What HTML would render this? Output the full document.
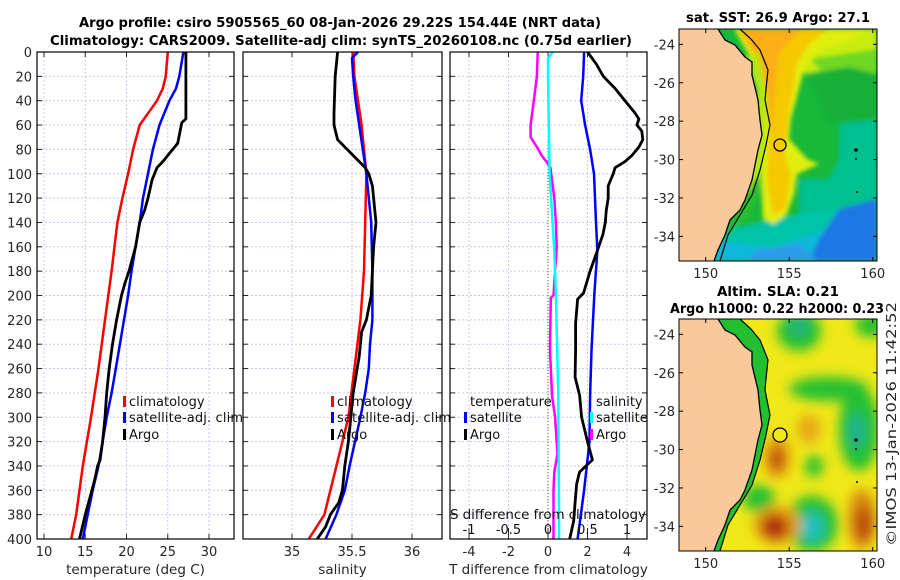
<!DOCTYPE html>
<html><head><meta charset="utf-8"><style>
html,body{margin:0;padding:0;background:#fff;}
svg{display:block;font-family:"DejaVu Sans","Liberation Sans",sans-serif;}
</style></head><body>
<svg id="fig" width="900" height="580" viewBox="0 0 900 580" xmlns="http://www.w3.org/2000/svg">
<defs>
<filter id="blur1" x="-20%" y="-20%" width="140%" height="140%"><feGaussianBlur stdDeviation="2"/></filter>
<filter id="blur2" x="-30%" y="-30%" width="160%" height="160%"><feGaussianBlur stdDeviation="6"/></filter>
<clipPath id="clipMap"><rect x="0" y="0" width="198" height="232"/></clipPath>
</defs>
<text x="340" y="27" text-anchor="middle" font-size="13" font-weight="bold" fill="#000" textLength="522" lengthAdjust="spacingAndGlyphs">Argo profile: csiro 5905565_60 08-Jan-2026 29.22S 154.44E (NRT data)</text>
<text x="341" y="45" text-anchor="middle" font-size="13" font-weight="bold" fill="#000" textLength="582" lengthAdjust="spacingAndGlyphs">Climatology: CARS2009. Satellite-adj clim: synTS_20260108.nc (0.75d earlier)</text>
<g id="panels"></g>

<!-- SST map -->
<g transform="translate(679,29)">
 <g clip-path="url(#clipMap)">
  <rect width="198" height="232" fill="#18b83a"/>
  <g filter="url(#blur1)">
   <polygon fill="#c8ec10" points="95,0 198,0 198,60 180,52 160,40 140,42 125,45"/>
   <polygon fill="#70d820" points="130,30 198,20 198,55 175,50 150,48"/>
   <polygon fill="#12b038" points="128,45 170,38 198,45 198,90 150,95"/>
   <polygon fill="#00c090" points="160,95 198,90 198,232 120,232 120,150 150,150 160,130"/>
   <polygon fill="#00c4a8" points="50,200 120,185 198,175 198,232 30,232"/>
   <polygon fill="#10b8d8" points="40,212 95,218 150,200 198,170 198,232 30,232"/>
   <polygon fill="#1c78e4" points="160,180 198,170 198,232 130,232 140,210"/>
   <polygon fill="#2a9ce8" points="75,222 120,215 140,232 70,232"/>
   <polygon fill="#e0ee10" points="55,0 190,0 170,12 140,22 125,40 120,60 112,90 110,110 128,130 140,135 118,145 115,165 108,185 95,195 84,190 82,150 84,110 82,70 72,30"/>
   <polygon fill="#f6c800" points="58,0 150,0 130,15 118,35 114,60 108,95 106,125 112,148 106,180 94,186 88,150 90,100 86,60 76,28"/>
   <polygon fill="#fbae14" points="60,0 125,0 110,12 100,25 96,60 93,100 88,60 78,26"/>
   <polygon fill="#b0e818" points="66,28 80,25 88,70 86,120 80,150 70,170 62,150 76,110 78,60"/>
   <polygon fill="#28c030" points="76,150 82,155 72,185 55,200 48,205 60,180"/>
  </g>
  <polygon fill="#f9c99a" points="0,0 39,0 46,11 56,16 66,28 73,33 73,46 79,71 81,91 83,106 79,121 76,136 73,151 66,171 61,181 51,191 46,206 39,221 35,232 0,232"/>
  <polyline fill="none" stroke="#000" stroke-width="1.3" points="39,0 46,11 56,16 66,28 73,33 73,46 79,71 81,91 83,106 79,121 76,136 73,151 66,171 61,181 51,191 46,206 39,221 35,232"/>
  <polyline fill="none" stroke="#000" stroke-width="1.2" points="61,0 72,10 81,21 89,41 87,60 86,71 91,96 87,116 81,141 73,166 61,186 49,206 41,232"/>
  <circle cx="177" cy="121" r="1.8" fill="#000"/><circle cx="177" cy="130" r="1" fill="#000"/><circle cx="178" cy="163" r="1" fill="#000"/>
  <circle cx="101" cy="116" r="6" fill="none" stroke="#000" stroke-width="1.3"/>
 </g>
 <rect width="198" height="232" fill="none" stroke="#000" stroke-width="1"/>
 <g id="sstTicks"></g>
</g>
<text x="778" y="22" text-anchor="middle" font-size="13" font-weight="bold" textLength="184" lengthAdjust="spacingAndGlyphs">sat. SST: 26.9 Argo: 27.1</text>

<!-- SLA map -->
<g transform="translate(679,319)">
 <g clip-path="url(#clipMap)">
  <rect width="198" height="232" fill="#f0e818"/>
  <g filter="url(#blur2)">
   <ellipse cx="120" cy="12" rx="22" ry="20" fill="#22c030"/>
   <ellipse cx="120" cy="8" rx="9" ry="9" fill="#20b088"/>
   <ellipse cx="192" cy="6" rx="16" ry="12" fill="#22c030"/>
   <ellipse cx="150" cy="70" rx="40" ry="12" fill="#22c030"/>
   <ellipse cx="180" cy="110" rx="20" ry="42" fill="#22c030"/>
   <ellipse cx="178" cy="112" rx="8" ry="18" fill="#20b098"/>
   <ellipse cx="135" cy="147" rx="9" ry="11" fill="#22c030"/>
   <ellipse cx="80" cy="180" rx="16" ry="14" fill="#22c030"/>
   <ellipse cx="133" cy="205" rx="26" ry="28" fill="#22c030"/>
   <ellipse cx="133" cy="208" rx="12" ry="15" fill="#20c0c0"/>
   <ellipse cx="98" cy="206" rx="24" ry="19" fill="#e8a010"/>
   <ellipse cx="96" cy="208" rx="14" ry="13" fill="#b02a08"/>
   <ellipse cx="98" cy="138" rx="14" ry="22" fill="#e8a010"/>
   <ellipse cx="98" cy="140" rx="7" ry="13" fill="#b84010"/>
   <ellipse cx="130" cy="110" rx="12" ry="15" fill="#e8a818"/>
   <ellipse cx="183" cy="200" rx="14" ry="30" fill="#d88810"/>
   <ellipse cx="185" cy="205" rx="8" ry="18" fill="#b84010"/>
  </g>
  <polygon fill="#22c030" points="39,0 61,0 72,10 81,21 89,41 87,60 86,71 91,96 87,116 81,141 73,166 61,186 49,206 41,232 35,232"/>
  <polygon fill="#f9c99a" points="0,0 39,0 46,11 56,16 66,28 73,33 73,46 79,71 81,91 83,106 79,121 76,136 73,151 66,171 61,181 51,191 46,206 39,221 35,232 0,232"/>
  <polyline fill="none" stroke="#000" stroke-width="1.3" points="39,0 46,11 56,16 66,28 73,33 73,46 79,71 81,91 83,106 79,121 76,136 73,151 66,171 61,181 51,191 46,206 39,221 35,232"/>
  <polyline fill="none" stroke="#000" stroke-width="1.2" points="61,0 72,10 81,21 89,41 87,60 86,71 91,96 87,116 81,141 73,166 61,186 49,206 41,232"/>
  <circle cx="177" cy="121" r="1.8" fill="#000"/><circle cx="177" cy="130" r="1" fill="#000"/><circle cx="178" cy="163" r="1" fill="#000"/>
  <circle cx="101" cy="116" r="7" fill="#f0e818" stroke="#000" stroke-width="1.3"/>
 </g>
 <rect width="198" height="232" fill="none" stroke="#000" stroke-width="1"/>
 <g id="slaTicks"></g>
</g>
<text x="778" y="296" text-anchor="middle" font-size="13" font-weight="bold" textLength="122" lengthAdjust="spacingAndGlyphs">Altim. SLA: 0.21</text>
<text x="777" y="313" text-anchor="middle" font-size="13" font-weight="bold" textLength="214" lengthAdjust="spacingAndGlyphs">Argo h1000: 0.22 h2000: 0.23</text>
<text transform="translate(896,546) rotate(-90)" font-size="13" fill="#262626" textLength="244" lengthAdjust="spacingAndGlyphs">©IMOS 13-Jan-2026 11:42:52</text>
</svg>
<script>
// ---------- data ----------
const tempClimDepth = [0,20,30,40,60,80,100,120,140,180,220,260,300,340,380,400];
const tempClim = [25.0,24.75,24.4,23.7,21.6,20.8,20.2,19.5,18.9,18.2,17.4,16.6,15.7,14.7,13.9,13.3];
const tempSatDepth = [0,20,30,40,60,80,100,120,140,160,180,200,220,240,260,280,300,320,340,360,380,400];
const tempSat = [26.9,26.4,26.0,25.2,24.0,23.2,22.6,22.0,21.6,21.1,20.6,20.2,19.7,19.2,18.7,18.2,17.6,17.1,16.6,15.9,15.3,14.7];
const tempArgoDepth = [0,55,58,75,80,90,95,105,120,130,140,160,180,190,200,220,240,260,280,300,320,335,340,350,360,380,400];
const tempArgo = [27.2,27.2,26.7,26.2,25.6,24.4,23.7,23.1,22.6,22.2,21.6,21.1,20.3,19.8,19.4,18.8,18.3,17.9,17.6,17.4,17.1,16.8,16.5,16.2,15.8,15.0,14.3];

const salClimDepth = [0,20,40,60,80,100,140,180,220,260,300,340,380,400];
const salClim = [35.51,35.52,35.55,35.58,35.60,35.62,35.61,35.60,35.57,35.52,35.47,35.37,35.27,35.14];
const salSatDepth = [0,5,20,40,60,80,100,140,180,220,240,260,280,300,340,360,380,400];
const salSat = [35.55,35.50,35.51,35.53,35.56,35.59,35.62,35.66,35.67,35.67,35.65,35.64,35.61,35.57,35.48,35.44,35.37,35.28];
const salArgoDepth = [0,20,50,60,72,80,88,95,100,110,120,140,160,180,200,220,230,250,280,300,320,340,360,370,380,390,400];
const salArgo = [35.38,35.36,35.35,35.35,35.38,35.46,35.54,35.61,35.64,35.67,35.68,35.70,35.68,35.67,35.66,35.62,35.58,35.56,35.51,35.49,35.47,35.44,35.42,35.39,35.32,35.28,35.21];

const dTSatDepth = [0,20,40,60,80,100,140,163,198,245,282,320,360,400];
const dTSat = [1.83,1.78,1.68,1.88,2.13,2.33,2.43,2.5,2.35,2.2,2.13,2.1,1.83,1.5];
const dTArgoDepth = [0,10,20,30,40,50,55,60,65,72,78,85,90,95,100,110,120,130,140,150,163,180,198,203,223,245,267,282,300,320,335,345,355,370,385,400];
const dTArgo = [2.0,2.45,2.8,3.4,3.9,4.4,4.6,4.5,4.75,4.8,4.6,4.25,3.9,3.4,3.3,3.05,3.05,2.95,2.9,2.78,2.5,2.13,1.8,1.5,1.4,1.4,1.37,1.6,1.7,2.0,2.25,1.6,1.45,1.37,1.3,1.1];
const dSSatDepth = [0,5,20,100,163,200,282,400];
const dSSat = [0.06,0.0,0.0,0.02,0.08,0.1,0.13,0.14];
const dSArgoDepth = [0,20,40,50,60,70,78,85,90,95,100,120,140,160,180,200,202,245,282,300,320,330,345,360,400];
const dSArgo = [-0.13,-0.14,-0.18,-0.2,-0.22,-0.22,-0.14,-0.08,-0.02,0.03,0.04,0.08,0.1,0.11,0.09,0.07,0.035,0.025,0.05,0.09,0.11,0.12,0.08,0.07,0.07];

const depthTicks = [0,20,40,60,80,100,120,140,160,180,200,220,240,260,280,300,320,340,360,380,400];
const tempTicks = [10,15,20,25,30];
const salTicks = [35,35.5,36];
const salTickLabels = ["35","35.5","36"];
const dTTicks = [-4,-2,0,2,4];
const dSTicks = [-1,-0.5,0,0.5,1];
const dSTickLabels = ["-1","-0.5","0","0.5","1"];
const lonTicks = [150,155,160];
const latTicks = [-24,-26,-28,-30,-32,-34];

// ---------- helpers ----------
const NS = "http://www.w3.org/2000/svg";
function mk(tag, attrs, parent){const e=document.createElementNS(NS,tag);for(const k in attrs)e.setAttribute(k,attrs[k]);parent.appendChild(e);return e;}
const top0=52, bot0=539;
const yD = d => top0 + d*(bot0-top0)/400;
function xLin(d0,d1,p0,p1){return v=>p0+(v-d0)*(p1-p0)/(d1-d0);}

const panelsG = document.getElementById('panels');

function panel(name, x0, x1, xs, ticks, labels, axisTitle, showY){
  const g = mk('g',{},panelsG);
  
  
  ticks.forEach(t=>{ const l=mk('line',{x1:xs(t),x2:xs(t),y1:top0,y2:bot0,stroke:'#c5cbe6','stroke-width':1,'stroke-dasharray':'2,2'},g);
      });
  depthTicks.forEach(d=>{ if(d===0||d===400) return; const l=mk('line',{x1:x0,x2:x1,y1:yD(d),y2:yD(d),stroke:'#c5cbe6','stroke-width':1,'stroke-dasharray':'2,2'},g);
      });
  depthTicks.forEach(d=>{ mk('line',{x1:x0,x2:x0+5,y1:yD(d),y2:yD(d),stroke:'#262626'},g); mk('line',{x1:x1-5,x2:x1,y1:yD(d),y2:yD(d),stroke:'#262626'},g);
    if(showY){ const t=mk('text',{x:x0-5,y:yD(d)+5,'text-anchor':'end','font-size':13,fill:'#262626'},g); t.textContent=d;
        } });
  ticks.forEach((v,i)=>{ mk('line',{x1:xs(v),x2:xs(v),y1:bot0,y2:bot0-5,stroke:'#262626'},g); mk('line',{x1:xs(v),x2:xs(v),y1:top0,y2:top0+5,stroke:'#262626'},g);
    const t=mk('text',{x:xs(v),y:bot0+17,'text-anchor':'middle','font-size':13,fill:'#262626'},g); t.textContent=labels[i];
      });
  const at = mk('text',{x:(x0+x1)/2,y:574,'text-anchor':'middle','font-size':13.5,fill:'#262626'},g); at.textContent=axisTitle;
   
  return g;
}
function frame(g,x0,x1){ const r=mk('rect',{x:x0,y:top0,width:x1-x0,height:bot0-top0,fill:'none',stroke:'#000','stroke-width':1.2},g);
    }
function line(g, xs, depths, vals, color, w, name){
  const pts = depths.map((d,i)=>xs(vals[i]).toFixed(1)+','+yD(d).toFixed(1)).join(' ');
  const p = mk('polyline',{points:pts,fill:'none',stroke:color,'stroke-width':w,'stroke-linejoin':'round'},g);
  
  
}
function legendItem(g,x,y,color,label,tl){
  if(color){ const m=mk('rect',{x:x,y:y-10,width:3,height:11,fill:color},g);
      }
  const t=mk('text',{x:x+(color?6:0),y:y,'font-size':13,fill:'#111'},g); t.textContent=label;
  if(tl) t.setAttribute('textLength',tl);
   
}

// Panel 1 temperature
const xT = xLin(10,30,44,209);
const g1 = panel('temperature-panel',37,234,xT,tempTicks,tempTicks.map(String),'temperature (deg C)',true);
line(g1,xT,tempClimDepth,tempClim,'#ff0000',2.5,'temp-climatology-line');
line(g1,xT,tempSatDepth,tempSat,'#0000ff',2.5,'temp-satellite-line');
line(g1,xT,tempArgoDepth,tempArgo,'#000000',2.8,'temp-argo-line');
frame(g1,37,234);
legendItem(g1,123,406,'#ff0000','climatology');
legendItem(g1,123,422,'#0000ff','satellite-adj. clim',114);
legendItem(g1,123,439,'#000000','Argo');

// Panel 2 salinity
const xS = xLin(35,36,292,412);
const g2 = panel('salinity-panel',243,442,xS,salTicks,salTickLabels,'salinity',false);
line(g2,xS,salClimDepth,salClim,'#ff0000',2.5,'sal-climatology-line');
line(g2,xS,salSatDepth,salSat,'#0000ff',2.5,'sal-satellite-line');
line(g2,xS,salArgoDepth,salArgo,'#000000',2.8,'sal-argo-line');
frame(g2,243,442);
legendItem(g2,331,406,'#ff0000','climatology');
legendItem(g2,331,422,'#0000ff','satellite-adj. clim',114);
legendItem(g2,331,439,'#000000','Argo');

// Panel 3 differences
const xDT = xLin(0,4,548,627);
const xDS = xLin(0,1,548,627);
const g3 = panel('difference-panel',450,647,xDT,dTTicks,dTTicks.map(String),'T difference from climatology',false);
const z = mk('line',{x1:548,x2:548,y1:top0,y2:bot0,stroke:'#5a6a2a','stroke-width':1,'stroke-dasharray':'1,2'},g3);
 
line(g3,xDS,dSArgoDepth,dSArgo,'#ff00ff',2.5,'sal-diff-argo-line');
line(g3,xDS,dSSatDepth,dSSat,'#00ffff',2.5,'sal-diff-satellite-line');
line(g3,xDT,dTSatDepth,dTSat,'#0000ff',2.5,'temp-diff-satellite-line');
line(g3,xDT,dTArgoDepth,dTArgo,'#000000',2.8,'temp-diff-argo-line');
frame(g3,450,647);
dSTicks.forEach((v,i)=>{ mk('line',{x1:xDS(v),x2:xDS(v),y1:bot0-11,y2:bot0-3,stroke:'#262626'},g3);
  const t=mk('text',{x:xDS(v),y:534,'text-anchor':'middle','font-size':13,fill:'#111'},g3); t.textContent=dSTickLabels[i];
    });
const st = mk('text',{x:548,y:519,'text-anchor':'middle','font-size':13.5,fill:'#111',textLength:196},g3); st.textContent='S difference from climatology';
 
legendItem(g3,470,406,null,'temperature');
legendItem(g3,464,422,'#0000ff','satellite');
legendItem(g3,464,439,'#000000','Argo');
legendItem(g3,596,406,null,'salinity');
legendItem(g3,590,422,'#00ffff','satellite');
legendItem(g3,590,439,'#ff00ff','Argo');

// Map ticks
function mapTicks(id){
  const g=document.getElementById(id);
  const lx = lon => (lon-148.4)*16.7;
  const ly = lat => (-23.2-lat)*19.2;
  lonTicks.forEach(v=>{ mk('line',{x1:lx(v),x2:lx(v),y1:232,y2:228,stroke:'#000'},g); mk('line',{x1:lx(v),x2:lx(v),y1:0,y2:4,stroke:'#000'},g);
    const t=mk('text',{x:lx(v),y:249,'text-anchor':'middle','font-size':13,fill:'#262626'},g); t.textContent=v;
      });
  latTicks.forEach(v=>{ mk('line',{x1:0,x2:4,y1:ly(v),y2:ly(v),stroke:'#000'},g); mk('line',{x1:198,x2:194,y1:ly(v),y2:ly(v),stroke:'#000'},g);
    const t=mk('text',{x:-4,y:ly(v)+5,'text-anchor':'end','font-size':13,fill:'#262626'},g); t.textContent=v;
      });
}
mapTicks('sstTicks'); mapTicks('slaTicks');
</script>
</body></html>
